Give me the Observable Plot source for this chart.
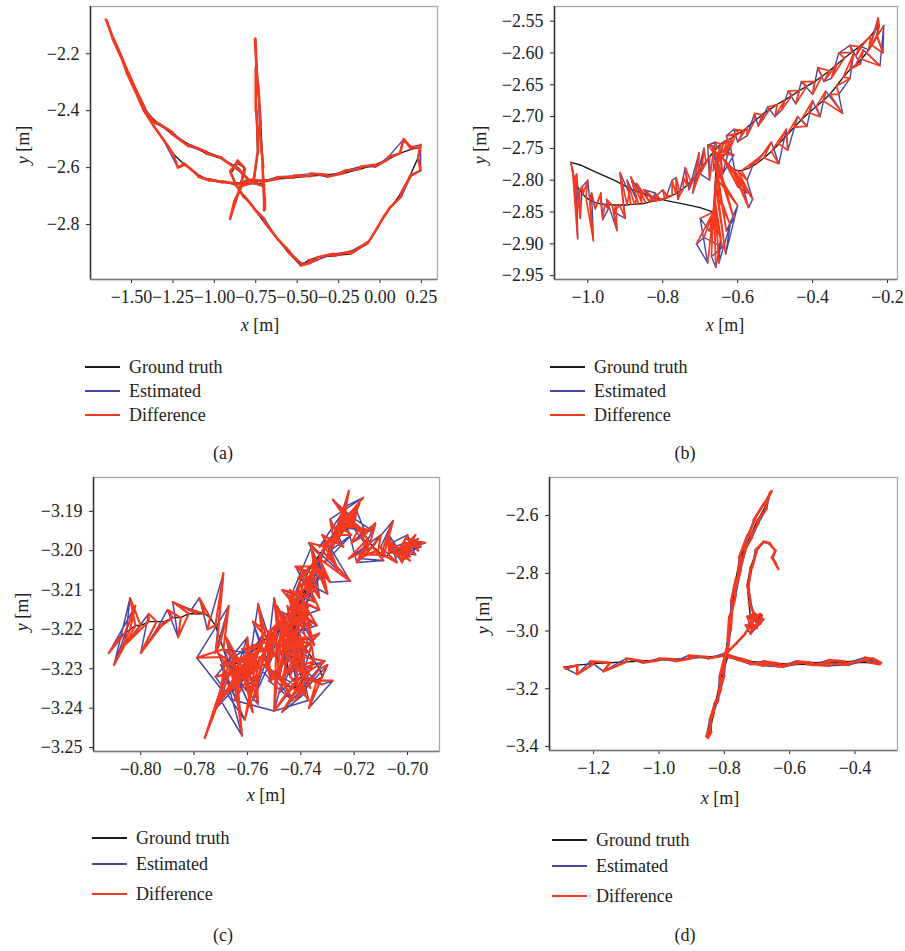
<!DOCTYPE html>
<html>
<head>
<meta charset="utf-8">
<script src="https://cdn.jsdelivr.net/npm/d3@7"></script>
<script src="https://cdn.jsdelivr.net/npm/@observablehq/plot@0.6"></script>
<style>
  body { margin: 0; background: #fff; }
  #fig { position: relative; width: 905px; height: 951px; font-family: "Liberation Serif", "DejaVu Serif", serif; color: #222; }
  .panel { position: absolute; }
  .panel svg { overflow: visible; }
  .lab { position: absolute; font-size: 18px; white-space: nowrap; transform: translate(-50%, -50%); }
  .ylab { transform: translate(-50%, -50%) rotate(-90deg); }
  .sw { position: absolute; width: 35px; height: 1.6px; }
  .tx { position: absolute; font-size: 18px; white-space: nowrap; transform: translateY(-50%); }
</style>
</head>
<body>
<div id="fig"></div>
<script>
// ---------- (a) ----------
const aGtX = [-1.655,-1.61,-1.565,-1.525,-1.475,-1.425,-1.37,-1.31,-1.25,-1.18,-1.10,-1.03,-0.95,-0.88,-0.80,-0.72,-0.62,-0.52,-0.42,-0.32,-0.22,-0.12,-0.03,0.05,0.12,0.19,0.24,0.23,0.18,0.124,0.07,0.023,-0.03,-0.077,-0.178,-0.28,-0.379,-0.43,-0.479,-0.55,-0.62,-0.70,-0.76,-0.82,-0.87,-0.90,-0.86,-0.82,-0.85,-0.90,-0.88,-0.83,-0.76,-0.74,-0.745,-0.75,-0.752,-0.74,-0.72,-0.705,-0.70,-0.695,-0.70,-0.78,-0.86,-0.95,-1.05,-1.15,-1.26,-1.35,-1.425,-1.47,-1.52,-1.565,-1.61,-1.65];
const aGtY = [-2.08,-2.15,-2.21,-2.27,-2.335,-2.40,-2.45,-2.50,-2.55,-2.59,-2.625,-2.645,-2.652,-2.655,-2.65,-2.645,-2.64,-2.635,-2.63,-2.625,-2.62,-2.605,-2.59,-2.57,-2.55,-2.535,-2.53,-2.565,-2.63,-2.692,-2.735,-2.774,-2.825,-2.868,-2.903,-2.91,-2.915,-2.925,-2.944,-2.90,-2.85,-2.79,-2.745,-2.70,-2.66,-2.62,-2.585,-2.60,-2.68,-2.77,-2.72,-2.66,-2.65,-2.55,-2.40,-2.25,-2.147,-2.30,-2.45,-2.60,-2.70,-2.745,-2.66,-2.648,-2.60,-2.57,-2.55,-2.52,-2.48,-2.44,-2.395,-2.33,-2.265,-2.205,-2.145,-2.085];
const aEstX = [-1.65,-1.615,-1.56,-1.53,-1.47,-1.43,-1.365,-1.315,-1.22,-1.185,-1.095,-1.035,-0.955,-0.875,-0.80,-0.715,-0.62,-0.52,-0.42,-0.32,-0.22,-0.12,-0.03,0.05,0.143,0.19,0.245,0.245,0.19,0.13,0.062,0.03,-0.036,-0.07,-0.18,-0.28,-0.38,-0.42,-0.48,-0.545,-0.625,-0.695,-0.765,-0.82,-0.875,-0.905,-0.86,-0.815,-0.855,-0.905,-0.875,-0.835,-0.765,-0.735,-0.75,-0.745,-0.755,-0.735,-0.727,-0.71,-0.695,-0.70,-0.705,-0.775,-0.865,-0.955,-1.045,-1.155,-1.255,-1.355,-1.42,-1.475,-1.525,-1.56,-1.615,-1.645];
const aEstY = [-2.085,-2.145,-2.215,-2.265,-2.34,-2.395,-2.455,-2.495,-2.60,-2.585,-2.632,-2.64,-2.648,-2.66,-2.642,-2.65,-2.633,-2.628,-2.621,-2.632,-2.612,-2.597,-2.597,-2.563,-2.50,-2.527,-2.52,-2.61,-2.625,-2.70,-2.738,-2.765,-2.83,-2.86,-2.895,-2.903,-2.925,-2.935,-2.935,-2.895,-2.845,-2.783,-2.738,-2.705,-2.653,-2.612,-2.575,-2.605,-2.688,-2.78,-2.712,-2.665,-2.655,-2.545,-2.40,-2.25,-2.15,-2.31,-2.46,-2.59,-2.705,-2.75,-2.665,-2.655,-2.605,-2.565,-2.545,-2.525,-2.475,-2.445,-2.39,-2.325,-2.26,-2.21,-2.14,-2.09];
const aTicksX = [-1.5,-1.25,-1.0,-0.75,-0.5,-0.25,0,0.25];
const aTicksY = [-2.2,-2.4,-2.6,-2.8];

// ---------- (b) ----------
// ground truth: tip -> lower strand -> upper-right strand -> lower-right strand -> loop -> back to tip
const bGtX = [
  -1.045,-1.043,-1.04,-1.035,-1.03,-1.022,-1.013,-1.005,-0.995,-0.985,-0.975,-0.965,-0.955,-0.945,-0.935,-0.925,
  -0.915,-0.905,-0.895,-0.885,-0.875,-0.865,-0.855,-0.845,-0.835,-0.825,-0.815,-0.805,-0.795,-0.785,-0.775,-0.765,-0.755,-0.745,-0.735,-0.725,
  -0.715,-0.705,-0.695,-0.685,-0.675,-0.665,-0.655,-0.645,-0.635,-0.625,-0.615,-0.605,-0.595,-0.585,
  -0.575,-0.555,-0.535,-0.515,-0.495,-0.475,-0.455,-0.435,-0.415,-0.395,-0.375,-0.355,-0.335,-0.315,-0.295,-0.275,-0.26,-0.245,-0.232,-0.222,
  -0.228,-0.242,-0.256,-0.27,-0.285,-0.30,-0.318,-0.336,-0.354,-0.372,-0.39,-0.41,-0.43,-0.45,-0.47,-0.49,-0.51,-0.53,-0.55,-0.57,-0.59,
  -0.60,-0.61,-0.618,-0.625,-0.632,-0.64,-0.645,-0.65,-0.653,-0.655,-0.657,-0.658,-0.659,-0.66,-0.661,-0.662,-0.663,-0.664,-0.665,-0.665,-0.665,-0.665,-0.665,-0.665,
  -0.70,-0.74,-0.79,-0.83,-0.88,-0.93,-0.98,-1.02,-1.045];
const bGtY = [
  -2.772,-2.78,-2.79,-2.80,-2.808,-2.815,-2.822,-2.827,-2.831,-2.834,-2.836,-2.837,-2.838,-2.838,-2.839,-2.839,
  -2.839,-2.839,-2.839,-2.838,-2.838,-2.837,-2.837,-2.836,-2.834,-2.833,-2.832,-2.831,-2.829,-2.827,-2.824,-2.821,-2.817,-2.813,-2.808,-2.802,
  -2.795,-2.787,-2.779,-2.771,-2.763,-2.756,-2.749,-2.743,-2.739,-2.736,-2.733,-2.729,-2.726,-2.722,
  -2.717,-2.707,-2.697,-2.689,-2.681,-2.674,-2.667,-2.659,-2.652,-2.645,-2.637,-2.628,-2.618,-2.608,-2.599,-2.59,-2.582,-2.573,-2.564,-2.556,
  -2.572,-2.588,-2.60,-2.61,-2.619,-2.626,-2.638,-2.652,-2.665,-2.675,-2.684,-2.694,-2.705,-2.717,-2.73,-2.743,-2.755,-2.765,-2.774,-2.781,-2.785,
  -2.785,-2.783,-2.779,-2.775,-2.77,-2.765,-2.76,-2.755,-2.76,-2.765,-2.775,-2.785,-2.795,-2.805,-2.815,-2.825,-2.835,-2.842,-2.848,-2.85,-2.85,-2.85,-2.85,-2.85,
  -2.843,-2.838,-2.832,-2.826,-2.815,-2.80,-2.787,-2.776,-2.772];
const bEstX = [
  -1.04,-1.035,-1.027,-1.03,-1.02,-1.015,-1.00,-0.985,-0.99,-0.98,-0.965,-0.96,-0.945,-0.95,-0.922,-0.93,
  -0.90,-0.914,-0.89,-0.895,-0.87,-0.885,-0.86,-0.87,-0.84,-0.85,-0.82,-0.83,-0.80,-0.79,-0.775,-0.764,-0.76,-0.745,-0.74,-0.73,
  -0.703,-0.72,-0.69,-0.70,-0.675,-0.68,-0.66,-0.665,-0.64,-0.65,-0.62,-0.63,-0.61,-0.60,
  -0.575,-0.555,-0.545,-0.52,-0.50,-0.483,-0.465,-0.445,-0.43,-0.40,-0.386,-0.37,-0.35,-0.33,-0.30,-0.285,-0.27,-0.25,-0.225,-0.228,
  -0.212,-0.21,-0.22,-0.265,-0.272,-0.29,-0.30,-0.33,-0.32,-0.365,-0.38,-0.40,-0.415,-0.44,-0.466,-0.47,-0.49,-0.51,-0.536,-0.555,-0.575,
  -0.56,-0.571,-0.59,-0.575,-0.60,-0.62,-0.64,-0.61,-0.67,-0.61,-0.63,-0.60,-0.632,-0.62,-0.65,-0.645,-0.658,-0.67,-0.64,-0.69,-0.71,-0.68,-0.70,-0.675];
const bEstY = [
  -2.785,-2.80,-2.892,-2.79,-2.86,-2.81,-2.80,-2.895,-2.82,-2.845,-2.82,-2.862,-2.845,-2.83,-2.879,-2.85,
  -2.86,-2.788,-2.82,-2.80,-2.83,-2.795,-2.82,-2.805,-2.83,-2.815,-2.82,-2.832,-2.815,-2.825,-2.80,-2.796,-2.83,-2.795,-2.78,-2.815,
  -2.757,-2.82,-2.75,-2.79,-2.80,-2.745,-2.74,-2.785,-2.745,-2.77,-2.75,-2.73,-2.72,-2.74,
  -2.73,-2.695,-2.715,-2.685,-2.70,-2.69,-2.66,-2.68,-2.645,-2.665,-2.623,-2.645,-2.64,-2.60,-2.588,-2.605,-2.59,-2.595,-2.545,-2.575,
  -2.60,-2.557,-2.62,-2.595,-2.617,-2.60,-2.64,-2.665,-2.695,-2.66,-2.70,-2.675,-2.715,-2.70,-2.753,-2.72,-2.774,-2.74,-2.761,-2.77,-2.80,
  -2.83,-2.843,-2.80,-2.82,-2.81,-2.745,-2.79,-2.76,-2.745,-2.86,-2.88,-2.84,-2.916,-2.87,-2.93,-2.89,-2.937,-2.92,-2.905,-2.89,-2.90,-2.93,-2.86,-2.88];
const bTicksX = [-1.0,-0.8,-0.6,-0.4,-0.2];
const bTicksY = [-2.55,-2.60,-2.65,-2.70,-2.75,-2.80,-2.85,-2.90,-2.95];

// ---------- (c) ----------
const cGtX = [
  -0.808,-0.806,-0.804,-0.802,-0.800,-0.797,-0.794,-0.791,-0.788,-0.785,-0.782,-0.779,-0.776,-0.774,-0.772,-0.771,-0.770,-0.769,-0.768,-0.767,
  -0.766,-0.765,-0.764,-0.763,-0.762,-0.761,-0.760,-0.759,-0.758,-0.757,-0.756,-0.755,-0.754,-0.753,-0.752,-0.751,-0.750,-0.749,-0.748,-0.747,
  -0.749,-0.751,-0.753,-0.755,-0.757,-0.759,-0.761,-0.763,-0.765,-0.766,-0.765,-0.763,-0.761,-0.759,-0.757,-0.755,-0.753,-0.751,-0.749,-0.747,
  -0.746,-0.745,-0.744,-0.743,-0.742,-0.741,-0.740,-0.739,-0.738,-0.736,-0.734,-0.732,-0.733,-0.735,-0.737,-0.739,-0.741,-0.742,-0.742,-0.741,-0.740,-0.739,-0.738,-0.737,-0.736,-0.734,-0.733,-0.732,
  -0.734,-0.736,-0.738,-0.740,-0.741,-0.742,-0.743,-0.744,-0.745,-0.745,-0.744,-0.742,-0.740,-0.739,-0.740,-0.741,-0.742,-0.742,-0.741,-0.740,-0.739,-0.737,-0.735,-0.733,
  -0.735,-0.737,-0.739,-0.741,-0.743,-0.745,-0.747,-0.748,-0.746,-0.743,-0.740,-0.738,-0.739,-0.741,-0.742,-0.741,-0.739,-0.737,-0.735,-0.733,
  -0.731,-0.730,-0.729,-0.728,-0.727,-0.726,-0.725,-0.724,-0.722,-0.720,-0.718,-0.716,-0.714,-0.712,
  -0.713,-0.715,-0.717,-0.719,-0.721,-0.723,-0.725,-0.727,-0.728,-0.726,-0.724,-0.721,-0.718,-0.715,-0.713,-0.711,
  -0.710,-0.709,-0.708,-0.707,-0.706,-0.705,-0.704,-0.703,-0.702,-0.701,-0.700,-0.699,-0.698,-0.697,
  -0.698,-0.700,-0.702,-0.704,-0.706,-0.704,-0.702,-0.700,-0.698,-0.696];
const cGtY = [
  -3.222,-3.221,-3.220,-3.219,-3.219,-3.218,-3.218,-3.218,-3.217,-3.217,-3.216,-3.216,-3.216,-3.217,-3.219,-3.221,-3.223,-3.225,-3.227,-3.229,
  -3.230,-3.231,-3.231,-3.231,-3.230,-3.230,-3.229,-3.228,-3.227,-3.226,-3.225,-3.224,-3.223,-3.222,-3.221,-3.220,-3.220,-3.219,-3.219,-3.219,
  -3.221,-3.223,-3.225,-3.227,-3.229,-3.230,-3.231,-3.232,-3.232,-3.231,-3.229,-3.228,-3.227,-3.226,-3.225,-3.224,-3.222,-3.221,-3.220,-3.219,
  -3.220,-3.221,-3.222,-3.223,-3.225,-3.227,-3.229,-3.231,-3.232,-3.233,-3.233,-3.232,-3.230,-3.228,-3.226,-3.224,-3.222,-3.220,-3.218,-3.216,-3.214,-3.212,-3.210,-3.208,-3.206,-3.204,-3.202,-3.200,
  -3.203,-3.206,-3.209,-3.212,-3.215,-3.218,-3.221,-3.224,-3.227,-3.230,-3.232,-3.233,-3.232,-3.229,-3.226,-3.223,-3.220,-3.217,-3.214,-3.211,-3.208,-3.205,-3.203,-3.201,
  -3.205,-3.209,-3.213,-3.217,-3.221,-3.225,-3.229,-3.232,-3.234,-3.235,-3.234,-3.231,-3.227,-3.223,-3.219,-3.215,-3.211,-3.207,-3.204,-3.201,
  -3.199,-3.198,-3.197,-3.196,-3.195,-3.194,-3.193,-3.193,-3.193,-3.193,-3.194,-3.196,-3.198,-3.200,
  -3.199,-3.197,-3.195,-3.194,-3.193,-3.193,-3.194,-3.196,-3.198,-3.197,-3.195,-3.194,-3.195,-3.197,-3.199,-3.200,
  -3.201,-3.2015,-3.2015,-3.201,-3.200,-3.200,-3.200,-3.1995,-3.199,-3.199,-3.1985,-3.198,-3.198,-3.198,
  -3.1985,-3.199,-3.1995,-3.200,-3.2005,-3.200,-3.1995,-3.199,-3.1985,-3.198];
const cEstX = [
  -0.812,-0.802,-0.810,-0.804,-0.806,-0.797,-0.800,-0.794,-0.790,-0.786,-0.788,-0.781,-0.778,-0.775,-0.769,-0.772,-0.767,-0.779,-0.770,-0.776,
  -0.768,-0.762,-0.770,-0.766,-0.758,-0.769,-0.760,-0.764,-0.757,-0.773,-0.754,-0.760,-0.756,-0.750,-0.758,-0.748,-0.753,-0.750,-0.745,-0.750,
  -0.765,-0.758,-0.770,-0.761,-0.772,-0.760,-0.767,-0.757,-0.771,-0.763,-0.768,-0.759,-0.766,-0.756,-0.762,-0.751,-0.758,-0.752,-0.746,-0.749,
  -0.748,-0.740,-0.746,-0.741,-0.745,-0.738,-0.7364,-0.743,-0.732,-0.728,-0.737,-0.730,-0.742,-0.736,-0.744,-0.739,-0.746,-0.737,-0.744,-0.738,-0.742,-0.736,-0.740,-0.733,-0.735,-0.729,-0.7215,-0.730,
  -0.738,-0.731,-0.744,-0.734,-0.747,-0.738,-0.749,-0.740,-0.748,-0.741,-0.737,-0.750,-0.735,-0.744,-0.733,-0.746,-0.737,-0.745,-0.735,-0.743,-0.734,-0.741,-0.730,-0.736,
  -0.744,-0.733,-0.749,-0.737,-0.751,-0.739,-0.752,-0.743,-0.754,-0.738,-0.747,-0.731,-0.745,-0.749,-0.736,-0.747,-0.735,-0.742,-0.731,-0.737,
  -0.726,-0.732,-0.724,-0.729,-0.7166,-0.724,-0.722,-0.727,-0.719,-0.716,-0.721,-0.712,-0.718,-0.709,
  -0.719,-0.724,-0.713,-0.727,-0.718,-0.729,-0.721,-0.731,-0.725,-0.733,-0.720,-0.728,-0.715,-0.722,-0.710,-0.716,
  -0.7054,-0.710,-0.704,-0.707,-0.702,-0.699,-0.706,-0.700,-0.697,-0.703,-0.6934,-0.700,-0.696,-0.698,
  -0.701,-0.696,-0.705,-0.699,-0.708,-0.702,-0.697,-0.704,-0.695,-0.699];
const cEstY = [
  -3.226,-3.214,-3.229,-3.212,-3.224,-3.216,-3.226,-3.220,-3.215,-3.222,-3.213,-3.215,-3.212,-3.220,-3.2057,-3.226,-3.214,-3.2272,-3.235,-3.2476,
  -3.232,-3.247,-3.238,-3.229,-3.241,-3.225,-3.226,-3.235,-3.229,-3.241,-3.221,-3.232,-3.2135,-3.226,-3.238,-3.218,-3.229,-3.212,-3.228,-3.2407,
  -3.238,-3.224,-3.229,-3.243,-3.232,-3.222,-3.236,-3.233,-3.226,-3.240,-3.222,-3.236,-3.231,-3.239,-3.225,-3.233,-3.218,-3.229,-3.216,-3.226,
  -3.232,-3.2069,-3.218,-3.236,-3.214,-3.230,-3.2349,-3.228,-3.234,-3.233,-3.240,-3.229,-3.238,-3.224,-3.222,-3.232,-3.225,-3.214,-3.210,-3.219,-3.222,-3.210,-3.204,-3.212,-3.201,-3.208,-3.2077,-3.198,
  -3.212,-3.205,-3.215,-3.219,-3.222,-3.226,-3.214,-3.231,-3.236,-3.226,-3.238,-3.2407,-3.228,-3.224,-3.221,-3.229,-3.216,-3.211,-3.224,-3.218,-3.209,-3.207,-3.211,-3.199,
  -3.212,-3.215,-3.219,-3.224,-3.227,-3.222,-3.233,-3.238,-3.229,-3.236,-3.241,-3.228,-3.231,-3.215,-3.219,-3.210,-3.213,-3.204,-3.207,-3.198,
  -3.205,-3.196,-3.199,-3.192,-3.1865,-3.189,-3.1848,-3.197,-3.190,-3.195,-3.198,-3.193,-3.202,-3.2025,
  -3.203,-3.190,-3.195,-3.194,-3.188,-3.200,-3.196,-3.203,-3.191,-3.199,-3.192,-3.187,-3.199,-3.202,-3.196,-3.201,
  -3.1924,-3.199,-3.203,-3.196,-3.201,-3.2025,-3.198,-3.196,-3.201,-3.2005,-3.198,-3.197,-3.200,-3.199,
  -3.202,-3.197,-3.199,-3.2015,-3.197,-3.203,-3.196,-3.2015,-3.199,-3.197];
const cTicksX = [-0.80,-0.78,-0.76,-0.74,-0.72,-0.70];
const cTicksY = [-3.19,-3.20,-3.21,-3.22,-3.23,-3.24,-3.25];

// ---------- (d) ----------
const dGtX = [-1.29,-1.25,-1.20,-1.15,-1.10,-1.05,-1.00,-0.95,-0.90,-0.85,-0.80,-0.76,-0.72,-0.68,-0.63,-0.58,-0.53,-0.48,-0.43,-0.38,-0.34,-0.32,-0.36,-0.42,-0.48,-0.55,-0.62,-0.68,-0.74,-0.79,-0.805,-0.815,-0.825,-0.835,-0.845,-0.85,-0.84,-0.825,-0.81,-0.795,-0.785,-0.775,-0.765,-0.75,-0.73,-0.705,-0.68,-0.655,-0.675,-0.70,-0.72,-0.74,-0.755,-0.77,-0.78,-0.79,-0.795,-0.77,-0.745,-0.725,-0.715,-0.70,-0.69,-0.705,-0.71,-0.715,-0.72,-0.715,-0.705,-0.695,-0.70,-0.71,-0.715,-0.72,-0.725,-0.73,-0.72,-0.70,-0.68,-0.66,-0.645,-0.652,-0.642,-0.635];
const dGtY = [-3.125,-3.118,-3.113,-3.11,-3.107,-3.104,-3.101,-3.098,-3.094,-3.09,-3.085,-3.095,-3.105,-3.11,-3.113,-3.112,-3.11,-3.108,-3.106,-3.103,-3.10,-3.11,-3.108,-3.11,-3.112,-3.115,-3.117,-3.113,-3.105,-3.09,-3.15,-3.20,-3.25,-3.30,-3.345,-3.37,-3.32,-3.24,-3.16,-3.07,-2.99,-2.90,-2.82,-2.74,-2.67,-2.61,-2.56,-2.515,-2.57,-2.62,-2.67,-2.72,-2.79,-2.87,-2.95,-3.03,-3.08,-3.05,-3.02,-2.99,-2.96,-2.945,-2.97,-2.955,-2.965,-2.975,-2.985,-2.99,-2.98,-2.97,-2.96,-2.955,-2.95,-2.95,-2.90,-2.84,-2.78,-2.72,-2.692,-2.696,-2.72,-2.745,-2.765,-2.783];
const dEstX = [-1.285,-1.25,-1.21,-1.17,-1.10,-1.05,-1.00,-0.95,-0.91,-0.85,-0.80,-0.76,-0.72,-0.68,-0.63,-0.58,-0.53,-0.48,-0.43,-0.37,-0.345,-0.325,-0.36,-0.42,-0.48,-0.55,-0.62,-0.68,-0.74,-0.795,-0.80,-0.81,-0.83,-0.84,-0.84,-0.855,-0.845,-0.82,-0.815,-0.79,-0.78,-0.78,-0.76,-0.755,-0.725,-0.71,-0.675,-0.66,-0.67,-0.695,-0.715,-0.735,-0.75,-0.765,-0.785,-0.785,-0.80,-0.765,-0.74,-0.72,-0.73,-0.685,-0.70,-0.69,-0.725,-0.70,-0.735,-0.72,-0.69,-0.68,-0.71,-0.725,-0.70,-0.71,-0.72,-0.725,-0.715,-0.705,-0.68,-0.66,-0.643,-0.655,-0.645,-0.635];
const dEstY = [-3.13,-3.15,-3.105,-3.14,-3.095,-3.11,-3.095,-3.105,-3.085,-3.095,-3.078,-3.10,-3.115,-3.105,-3.122,-3.105,-3.118,-3.10,-3.113,-3.092,-3.095,-3.115,-3.10,-3.118,-3.12,-3.108,-3.125,-3.12,-3.098,-3.08,-3.155,-3.20,-3.25,-3.29,-3.35,-3.365,-3.31,-3.245,-3.16,-3.075,-2.995,-2.90,-2.82,-2.745,-2.665,-2.615,-2.555,-2.52,-2.575,-2.625,-2.675,-2.72,-2.79,-2.875,-2.95,-3.03,-3.085,-3.045,-3.015,-2.985,-2.95,-2.945,-2.98,-2.94,-2.975,-2.99,-2.98,-3.01,-2.975,-2.96,-2.935,-2.96,-2.95,-2.94,-2.895,-2.84,-2.78,-2.72,-2.69,-2.70,-2.72,-2.745,-2.765,-2.785];
const dTicksX = [-1.2,-1.0,-0.8,-0.6,-0.4];
const dTicksY = [-2.6,-2.8,-3.0,-3.2,-3.4];

const seriesNames = ["Ground truth", "Estimated", "Difference"];
const seriesColors = ["#1a1a1a", "#4646a6", "#f5391f"];
const captions = ["(a)", "(b)", "(c)", "(d)"];

const fig = document.getElementById("fig");
const fmt = k => d => d.toFixed(k).replace("-", "\u2212");
const pts = (xs, ys) => xs.map((x, i) => ({x, y: ys[i]}));

function panel(p) {
  const gt = pts(p.gx, p.gy);
  const est = pts(p.ex, p.ey);
  // difference trace: zig-zag joining each estimate to its ground-truth sample
  const diff = est.flatMap((e, i) => [gt[i], e]);
  const svg = Plot.plot({
    width: p.w, height: p.h,
    marginLeft: p.ml, marginRight: p.mr, marginTop: p.mt, marginBottom: p.mb,
    style: {fontFamily: "Liberation Serif, DejaVu Serif, serif", fontSize: "18px", color: "#222", background: "transparent", overflow: "visible"},
    x: {domain: p.xd, ticks: p.xt, tickFormat: fmt(p.xk), tickSize: 4, tickPadding: 7, label: null},
    y: {domain: p.yd, ticks: p.yt, tickFormat: fmt(p.yk), tickSize: 4, tickPadding: 7, label: null},
    marks: [
      Plot.frame({stroke: "#aaa", strokeWidth: 1.3}),
      Plot.ruleX([p.xd[0]], {stroke: "#333", strokeWidth: 1.5}),
      Plot.ruleY([p.yd[0]], {stroke: "#777", strokeWidth: 1.5}),
      Plot.line(gt, {x: "x", y: "y", stroke: seriesColors[0], strokeWidth: 1.4}),
      Plot.line(est, {x: "x", y: "y", stroke: seriesColors[1], strokeWidth: p.bw}),
      Plot.line(diff, {x: "x", y: "y", stroke: seriesColors[2], strokeWidth: p.rw})
    ]
  });
  const box = document.createElement("div");
  box.className = "panel";
  box.style.left = p.left + "px";
  box.style.top = p.top + "px";
  box.appendChild(svg);
  fig.appendChild(box);

  const add = (cls, html, x, y) => {
    const el = document.createElement("div");
    el.className = cls;
    el.innerHTML = html;
    el.style.left = x + "px";
    el.style.top = y + "px";
    fig.appendChild(el);
  };
  add("lab ylab", "<i>y</i> [m]", p.ylab[0], p.ylab[1]);
  add("lab", "<i>x</i> [m]", p.xlab[0], p.xlab[1]);
  p.leg.rows.forEach((ry, i) => {
    const sw = document.createElement("div");
    sw.className = "sw";
    sw.style.left = p.leg.x + "px";
    sw.style.top = (ry - 1) + "px";
    sw.style.background = seriesColors[i];
    fig.appendChild(sw);
    add("tx", seriesNames[i], p.leg.x + 44, ry);
  });
  add("lab", p.cap, p.capPos[0], p.capPos[1]);
}

panel({gx: aGtX, gy: aGtY, ex: aEstX, ey: aEstY, xt: aTicksX, yt: aTicksY, xk: 2, yk: 1,
  xd: [-1.7475, 0.347], yd: [-2.993, -2.034], rw: 2.6, bw: 1.4,
  left: 0, top: 0, w: 450, h: 310, ml: 90, mr: 13, mt: 6, mb: 31,
  ylab: [23, 145], xlab: [260, 325], leg: {x: 85, rows: [367, 391, 415]}, cap: captions[0], capPos: [223, 453]});

panel({gx: bGtX, gy: bGtY, ex: bEstX, ey: bEstY, xt: bTicksX, yt: bTicksY, xk: 1, yk: 2,
  xd: [-1.0889, -0.1733], yd: [-2.956, -2.527], rw: 1.7, bw: 1.4,
  left: 450, top: 0, w: 455, h: 310, ml: 104, mr: 8, mt: 6, mb: 31,
  ylab: [480, 145], xlab: [725, 325], leg: {x: 550, rows: [367, 391, 415]}, cap: captions[1], capPos: [685, 453]});

panel({gx: cGtX, gy: cGtY, ex: cEstX, ey: cEstY, xt: cTicksX, yt: cTicksY, xk: 2, yk: 2,
  xd: [-0.8177, -0.688], yd: [-3.251, -3.1814], rw: 2.1, bw: 1.5,
  left: 0, top: 470, w: 450, h: 310, ml: 93, mr: 11, mt: 7, mb: 29,
  ylab: [22, 612], xlab: [266, 795], leg: {x: 92, rows: [838, 864, 894]}, cap: captions[2], capPos: [223, 935]});

panel({gx: dGtX, gy: dGtY, ex: dEstX, ey: dEstY, xt: dTicksX, yt: dTicksY, xk: 1, yk: 1,
  xd: [-1.335, -0.270], yd: [-3.414, -2.468], rw: 2.5, bw: 1.5,
  left: 450, top: 470, w: 455, h: 310, ml: 99, mr: 8, mt: 7, mb: 30,
  ylab: [483, 615], xlab: [720, 798], leg: {x: 552, rows: [840, 866, 896]}, cap: captions[3], capPos: [685, 935]});
</script>
</body>
</html>
